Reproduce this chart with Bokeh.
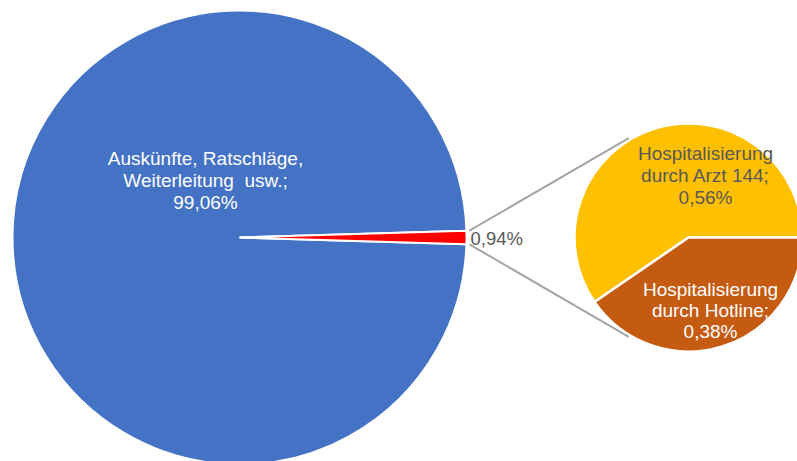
import numpy as np
from bokeh.plotting import figure
from bokeh.models import ColumnDataSource
from bokeh.core.properties import value
from bokeh.embed import file_html
from bokeh.resources import INLINE

# ---- data ----
main_labels = ["Auskünfte, Ratschläge,\nWeiterleitung  usw.;\n99,06%", "0,94%"]
main_values = [99.06, 0.94]
main_colors = ["#4472C4", "#FF0000"]

sub_labels = ["Hospitalisierung\ndurch Arzt 144;\n0,56%", "Hospitalisierung\ndurch Hotline;\n0,38%"]
sub_values = [0.56, 0.38]
sub_colors = ["#FFC000", "#C55A11"]

W, H = 797, 461
# geometry (pixel space, y measured from top then flipped)
BIG_C = (239, 237)
BIG_R = 227
SMALL_C = (688, 237)
SMALL_R = 114

def fy(y):
    return H - y

p = figure(width=W, height=H, x_range=(0, W), y_range=(0, H),
           output_backend="svg", toolbar_location=None, min_border=0)
p.axis.visible = False
p.grid.visible = False
p.outline_line_color = None
p.background_fill_color = "white"
p.border_fill_color = "white"

# ---- big pie ----
tot = sum(main_values)
red_span = main_values[1] / tot * 2 * np.pi
starts = [red_span / 2, -red_span / 2]
ends = [2 * np.pi - red_span / 2, red_span / 2]
src_big = ColumnDataSource(dict(x=[BIG_C[0]] * 2, y=[fy(BIG_C[1])] * 2,
                                start=starts, end=ends, color=main_colors))
p.wedge(x="x", y="y", radius=BIG_R, start_angle="start", end_angle="end",
        fill_color="color", line_color="white", line_width=2, source=src_big)

# ---- small pie ----
stot = sum(sub_values)
orange_span = sub_values[1] / stot * 2 * np.pi
s_starts = [0.0, -orange_span]
s_ends = [2 * np.pi - orange_span, 0.0]
src_small = ColumnDataSource(dict(x=[SMALL_C[0]] * 2, y=[fy(SMALL_C[1])] * 2,
                                  start=s_starts, end=s_ends, color=sub_colors))
p.wedge(x="x", y="y", radius=SMALL_R, start_angle="start", end_angle="end",
        fill_color="color", line_color="white", line_width=2.5, source=src_small)

# ---- connector lines ----
conn_angle = np.deg2rad(121)
r0 = BIG_R + 3
for sgn in (1, -1):
    a0 = sgn * red_span / 2
    x0 = BIG_C[0] + r0 * np.cos(a0)
    y0 = fy(BIG_C[1]) + r0 * np.sin(a0)
    a1 = sgn * conn_angle
    x1 = SMALL_C[0] + (SMALL_R + 2) * np.cos(a1)
    y1 = fy(SMALL_C[1]) + (SMALL_R + 2) * np.sin(a1)
    p.line([x0, x1], [y0, y1], line_color="#A5A5A5", line_width=2)

# ---- labels ----
font = value("Liberation Sans")

def put_label(text, cx, cy, color, size, lh):
    lines = [ln.replace("  ", "\u00a0\u00a0") for ln in text.split("\n")]
    n = len(lines)
    ys = [fy(cy + (i - (n - 1) / 2) * lh) for i in range(n)]
    p.text(x=[cx] * n, y=ys, text=lines, text_font=font, text_font_size=size,
           text_color=color, text_align="center", text_baseline="middle")

put_label(main_labels[0], 205, 180, "white", "19px", 22)
p.text(x=[470], y=[fy(238)], text=[main_labels[1]], text_font=font,
       text_font_size="18.5px", text_color="#595959", text_align="left",
       text_baseline="middle")
put_label(sub_labels[0], 705, 175, "#595959", "19px", 22)
put_label(sub_labels[1], 710, 310, "white", "19px", 21)

open("out.html", "w").write(file_html(p, INLINE))
